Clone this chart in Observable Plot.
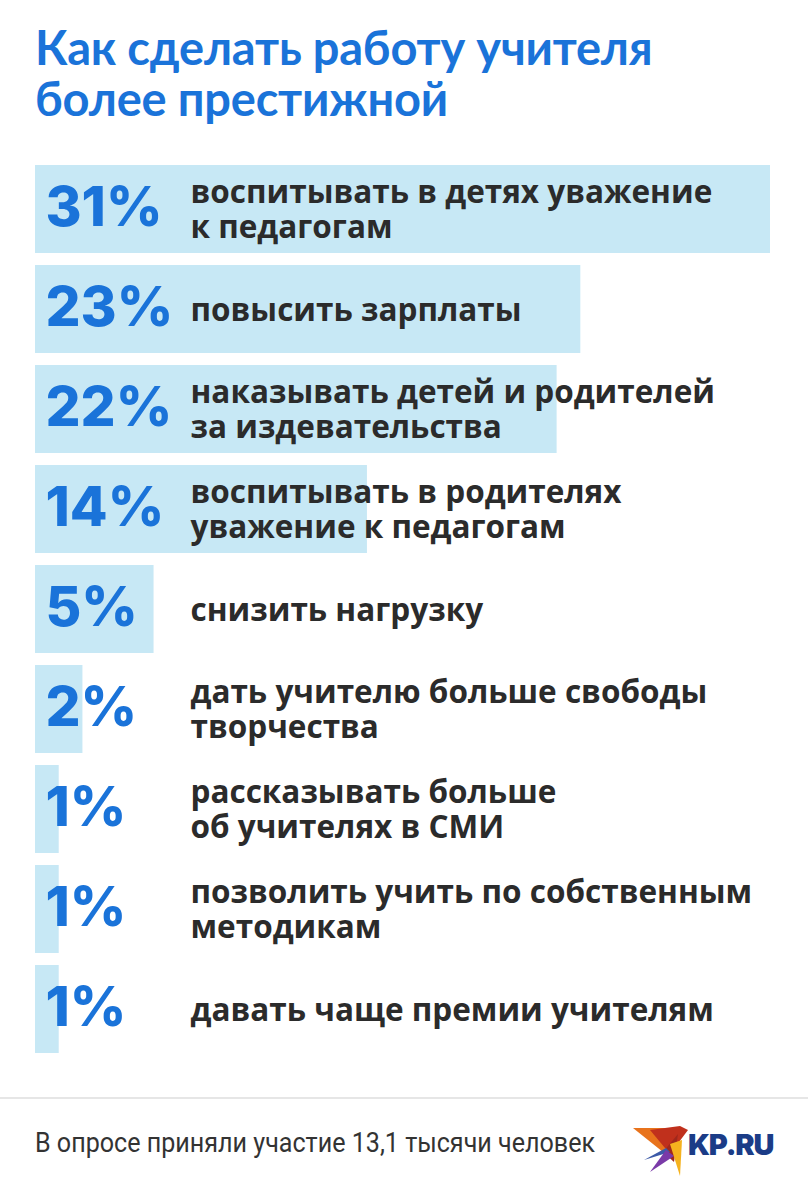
<!DOCTYPE html>
<html>
<head>
<meta charset="utf-8">
<script src="https://cdn.jsdelivr.net/npm/d3@7"></script>
<script src="https://cdn.jsdelivr.net/npm/@observablehq/plot@0.6"></script>
<style>
  html, body { margin: 0; padding: 0; background: #fff; }
  #page { position: relative; width: 808px; height: 1200px; overflow: hidden; }
  #title { position: absolute; left: 35px; top: 22px; font-family: Lato, sans-serif; font-weight: 700;
           font-size: 47px; line-height: 51px; color: #1a73d9; letter-spacing: -0.2px; white-space: nowrap; }
  #chart { position: absolute; left: 0; top: 152px; }
  #rule { position: absolute; left: 0; top: 1097px; width: 808px; height: 2px; background: #e6e6e6; }
  #caption { position: absolute; left: 35px; top: 1127px; font-family: Roboto, sans-serif;
             font-size: 27px; color: #333; white-space: nowrap; transform-origin: 0 0; }
  #logo { position: absolute; left: 630px; top: 1122px; }
</style>
</head>
<body>
<div id="page">
  <div id="title">Как сделать работу учителя<br>более престижной</div>
  <div id="chart"></div>
  <div id="rule"></div>
  <div id="caption">В опросе приняли участие 13,1 тысячи человек</div>
  <svg id="logo" width="170" height="60" viewBox="0 0 170 60">
    <polygon points="3,6 52,6 33,30" fill="#e8731c"/>
    <polygon points="20,8 50,4 58,8 40,32" fill="#c0301c"/>
    <polygon points="33,30 48,12 44,40" fill="#a0281c"/>
    <polygon points="14,38 36,26 40,30" fill="#3d5aa8"/>
    <polygon points="36,28 44,34 20,50" fill="#7a3aa8"/>
    <polygon points="40,22 52,18 50,54" fill="#f5b21e"/>
    <text x="58" y="33" font-family="Inter, sans-serif" font-weight="900" font-size="29" fill="#1b3c87" letter-spacing="-1.2">KP.RU</text>
  </svg>
</div>
<script>
const categories = [
  "воспитывать в детях уважение\nк педагогам",
  "повысить зарплаты",
  "наказывать детей и родителей\nза издевательства",
  "воспитывать в родителях\nуважение к педагогам",
  "снизить нагрузку",
  "дать учителю больше свободы\nтворчества",
  "рассказывать больше\nоб учителях в СМИ",
  "позволить учить по собственным\nметодикам",
  "давать чаще премии учителям"
];
const values = [31, 23, 22, 14, 5, 2, 1, 1, 1];

const data = categories.map((c, i) => ({cat: c, value: values[i], label: values[i] + "%"}));

const chart = Plot.plot({
  width: 808,
  height: 920,
  marginTop: 10,
  marginBottom: 16,
  marginLeft: 0,
  marginRight: 0,
  x: {domain: [0, 31], range: [35, 770], axis: null},
  y: {domain: categories, paddingInner: 0.12, paddingOuter: 0, axis: null},
  style: {background: "transparent"},
  marks: [
    Plot.barX(data, {x: "value", y: "cat", fill: "#c7e8f5"}),
    Plot.text(data, {x: 0, y: "cat", text: "label", textAnchor: "start", dx: 10, dy: -1,
      fill: "#1a73d9", fontSize: 55, fontWeight: 800, fontFamily: "Inter, sans-serif", letterSpacing: -1}),
    Plot.text(data, {x: 0, y: "cat", text: "cat", textAnchor: "start", dx: 155, dy: 0, lineAnchor: "middle",
      lineHeight: 1.11, fill: "#2b2b2b", fontSize: 31.5, fontWeight: 700, fontFamily: "'Open Sans', sans-serif"})
  ]
});
document.getElementById("chart").appendChild(chart);

const cap = document.getElementById("caption");
const w = cap.getBoundingClientRect().width;
cap.style.transform = `scaleX(${560 / w})`;
</script>
</body>
</html>
